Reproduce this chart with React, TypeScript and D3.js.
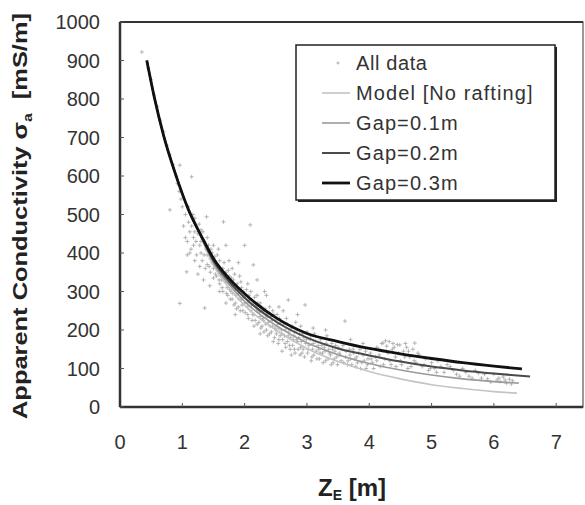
import React from "react";
import * as d3 from "d3";

// ---- data ----
const xTicks = [0, 1, 2, 3, 4, 5, 6, 7];
const yTicks = [0, 100, 200, 300, 400, 500, 600, 700, 800, 900, 1000];

const curveX = [0.43, 0.55, 0.7, 0.88, 1.1, 1.3, 1.5, 1.75, 2.0, 2.5, 3.0, 3.5, 4.0, 4.5, 5.0, 5.5, 6.0];
const modelY = [900, 805, 705, 610, 512, 440, 368, 310, 264, 200, 152, 118, 92, 73, 58, 48, 40];
const gap1Y = [900, 805, 705, 610, 512, 442, 374, 318, 274, 212, 167, 136, 113, 96, 83, 73, 66];
const gap2Y = [900, 805, 705, 610, 512, 444, 380, 326, 284, 222, 180, 152, 134, 118, 105, 95, 87];
const gap3Y = [900, 805, 705, 610, 512, 446, 386, 334, 294, 232, 191, 170, 152, 138, 126, 115, 106];
const endX = [6.37, 6.4, 6.58, 6.45];
const endY = [36, 62, 79, 99];

// measured points [Z_E, sigma_a]
const allData: [number, number][] = [
  [0.35, 922], [0.45, 880], [0.5, 850], [0.55, 810], [0.6, 780], [0.65, 745], [0.7, 715], [0.75, 680], [0.8, 655], [0.85, 630],
  [0.9, 600], [0.96, 628], [0.8, 512], [0.95, 560], [0.98, 540], [0.96, 269], [1.0, 520], [0.92, 580],
  [1.05, 500], [1.07, 351], [1.1, 480], [1.12, 455], [1.15, 598], [1.15, 470], [1.18, 440], [1.2, 490], [1.22, 430], [1.25, 450],
  [1.28, 420], [1.3, 400], [1.3, 460], [1.32, 380], [1.35, 430], [1.36, 257], [1.38, 410], [1.39, 494], [1.4, 395], [1.4, 370],
  [1.42, 420], [1.45, 385], [1.45, 350], [1.48, 400], [1.5, 360], [1.5, 335], [1.12, 400], [1.2, 380], [1.25, 345], [1.05, 440],
  [1.02, 470], [1.08, 430], [1.1, 520], [1.14, 410], [1.17, 500], [1.2, 455], [1.23, 395], [1.27, 475], [1.3, 430], [1.33, 455],
  [1.35, 395], [1.37, 360], [1.4, 440], [1.43, 365], [1.46, 410], [1.48, 375], [1.5, 420], [1.53, 345], [1.56, 395], [1.59, 330],
  [1.28, 365], [1.18, 420], [1.08, 395], [1.34, 330], [1.44, 315],
  [1.52, 390], [1.55, 370], [1.55, 340], [1.58, 355], [1.6, 380], [1.6, 320], [1.62, 345], [1.65, 360], [1.66, 481], [1.65, 300],
  [1.68, 335], [1.7, 420], [1.7, 350], [1.72, 310], [1.73, 290], [1.75, 340], [1.75, 325], [1.78, 300], [1.8, 360], [1.8, 315],
  [1.8, 280], [1.82, 330], [1.85, 305], [1.85, 270], [1.88, 320], [1.9, 295], [1.9, 260], [1.92, 340], [1.95, 310], [1.95, 280],
  [1.97, 250], [1.98, 300], [2.0, 420], [2.0, 270], [1.6, 300], [1.7, 270], [1.85, 240], [1.58, 410], [1.75, 380], [1.9, 375],
  [1.61, 360], [1.63, 330], [1.64, 310], [1.67, 375], [1.69, 325], [1.71, 295], [1.74, 355], [1.76, 305], [1.77, 280], [1.79, 335],
  [1.81, 295], [1.83, 265], [1.84, 345], [1.86, 290], [1.87, 255], [1.89, 305], [1.91, 280], [1.93, 250], [1.94, 325], [1.96, 265],
  [1.99, 285], [2.01, 245], [2.03, 305], [2.04, 270], [2.06, 230], [2.07, 290], [2.11, 265], [2.13, 240], [2.16, 285], [2.17, 225],
  [2.02, 290], [2.05, 260], [2.05, 240], [2.08, 280], [2.09, 473], [2.1, 300], [2.1, 250], [2.12, 225], [2.14, 369], [2.15, 270],
  [2.15, 240], [2.18, 260], [2.2, 215], [2.2, 290], [2.22, 250], [2.25, 235], [2.25, 270], [2.28, 210], [2.3, 250], [2.3, 225],
  [2.32, 300], [2.35, 240], [2.35, 200], [2.38, 220], [2.4, 260], [2.4, 190], [2.42, 235], [2.45, 210], [2.45, 250], [2.48, 180],
  [2.5, 225], [2.5, 200], [2.05, 320], [2.2, 330], [2.35, 290], [2.25, 190], [2.15, 210],
  [2.19, 250], [2.21, 270], [2.23, 220], [2.24, 245], [2.26, 205], [2.27, 260], [2.29, 230], [2.31, 195], [2.33, 255], [2.34, 215],
  [2.36, 235], [2.37, 185], [2.39, 245], [2.41, 210], [2.43, 195], [2.44, 225], [2.46, 170], [2.47, 240], [2.49, 205], [2.51, 190],
  [2.53, 215], [2.54, 165], [2.56, 230], [2.57, 185], [2.59, 200],
  [2.52, 240], [2.55, 205], [2.55, 175], [2.58, 220], [2.6, 190], [2.62, 250], [2.65, 200], [2.65, 165], [2.68, 215], [2.7, 278],
  [2.7, 185], [2.72, 160], [2.75, 205], [2.78, 175], [2.8, 195], [2.8, 150], [2.82, 220], [2.85, 170], [2.88, 190], [2.9, 155],
  [2.9, 210], [2.92, 140], [2.95, 180], [2.97, 265], [2.98, 165], [3.0, 195], [2.6, 145], [2.75, 135], [2.85, 240], [2.55, 260],
  [2.61, 175], [2.63, 215], [2.64, 185], [2.66, 155], [2.67, 230], [2.69, 170], [2.71, 195], [2.73, 150], [2.74, 180], [2.76, 210],
  [2.77, 160], [2.79, 185], [2.81, 140], [2.83, 175], [2.84, 200], [2.86, 150], [2.87, 180], [2.89, 135], [2.91, 170], [2.93, 190],
  [2.94, 150], [2.96, 130], [2.99, 175],
  [3.02, 150], [3.05, 175], [3.08, 130], [3.1, 165], [3.12, 190], [3.15, 145], [3.18, 160], [3.2, 125], [3.22, 175], [3.25, 140],
  [3.28, 155], [3.3, 120], [3.32, 185], [3.35, 150], [3.38, 135], [3.4, 165], [3.42, 115], [3.45, 145], [3.48, 130], [3.5, 155],
  [3.1, 205], [3.3, 200], [3.01, 140], [3.03, 160], [3.06, 185], [3.07, 120], [3.09, 150], [3.11, 135], [3.14, 170], [3.16, 125],
  [3.19, 150], [3.21, 140], [3.24, 160], [3.26, 115], [3.29, 145], [3.31, 165], [3.34, 125], [3.36, 140], [3.39, 110], [3.41, 150],
  [3.44, 125], [3.46, 160], [3.49, 110], [3.53, 135], [3.56, 150], [3.59, 115],
  [3.52, 140], [3.55, 120], [3.58, 160], [3.61, 223], [3.62, 130], [3.65, 110], [3.68, 150], [3.7, 125], [3.75, 140], [3.78, 105],
  [3.8, 130], [3.85, 150], [3.88, 115], [3.9, 135], [3.95, 100], [3.98, 125], [3.7, 175], [3.9, 165],
  [3.63, 145], [3.66, 120], [3.69, 135], [3.72, 110], [3.74, 150], [3.77, 125], [3.81, 115], [3.83, 140], [3.86, 100], [3.92, 120],
  [3.94, 145], [3.97, 110],
  [4.02, 140], [4.05, 115], [4.1, 130], [4.15, 150], [4.18, 105], [4.2, 165], [4.22, 166], [4.25, 125], [4.28, 158], [4.3, 140],
  [4.32, 170], [4.35, 110], [4.4, 155], [4.42, 130], [4.45, 162], [4.49, 161], [4.5, 120], [4.55, 145], [4.6, 155], [4.62, 100],
  [4.65, 130], [4.7, 150], [4.73, 166], [4.75, 115], [4.8, 135], [4.85, 105], [4.9, 125], [4.95, 95], [5.0, 115],
  [4.03, 125], [4.07, 100], [4.12, 120], [4.16, 135], [4.23, 110], [4.27, 145], [4.33, 120], [4.37, 150], [4.43, 105], [4.47, 140],
  [4.52, 110], [4.57, 130], [4.63, 145], [4.67, 105], [4.72, 120], [4.78, 140], [4.12, 155], [4.38, 165], [4.58, 165], [4.26, 172],
  [5.05, 100], [5.1, 120], [5.2, 90], [5.3, 105], [5.4, 85], [5.5, 100], [5.6, 80], [5.7, 95], [5.8, 75], [5.9, 73],
  [6.0, 85], [6.05, 70], [6.1, 66], [6.15, 78], [6.2, 62], [6.25, 72], [6.3, 68], [5.25, 110], [5.75, 88],
  [4.88, 110], [4.98, 100], [5.08, 90], [5.15, 105], [5.35, 95], [5.45, 80], [5.55, 90], [5.65, 75], [5.85, 85], [5.95, 65],
  [6.08, 75], [6.18, 70], [6.28, 60],
];

const seriesNames = ["Model [No rafting]", "Gap=0.1m", "Gap=0.2m", "Gap=0.3m"];
const seriesY = [modelY, gap1Y, gap2Y, gap3Y];
const seriesColor = ["#c4c4c4", "#9a9a9a", "#4a4a4a", "#111111"];
const seriesWidth = [1.6, 1.6, 2, 2.8];

const W = 585, H = 505;
const M = { left: 120, right: 583, top: 22, bottom: 407 };

export default function App() {
  const x = d3.scaleLinear().domain([0, 7.43]).range([M.left, M.right]);
  const y = d3.scaleLinear().domain([0, 1000]).range([M.bottom, M.top]);
  const line = d3
    .line<[number, number]>()
    .x((d) => x(d[0]))
    .y((d) => y(d[1]))
    .curve(d3.curveMonotoneX);

  const font = "Liberation Sans, Arial, sans-serif";

  return (
    <svg
      width={W}
      height={H}
      style={{ position: "absolute", left: 0, top: 0, background: "#fff" }}
      fontFamily={font}
    >
      <rect x={0} y={0} width={W} height={H} fill="#fff" />
      {/* frame */}
      <rect
        x={M.left}
        y={M.top}
        width={M.right - M.left}
        height={M.bottom - M.top}
        fill="none"
        stroke="#555"
        strokeWidth={1.2}
      />
      <line x1={M.left} y1={M.top} x2={M.right} y2={M.top} stroke="#333" strokeWidth={2} />
      <line x1={M.left} y1={M.top} x2={M.left} y2={M.bottom} stroke="#333" strokeWidth={2.5} />
      <line x1={M.left} y1={M.bottom} x2={M.right} y2={M.bottom} stroke="#333" strokeWidth={2.5} />

      {/* ticks */}
      {yTicks.map((t) => (
        <g key={"y" + t}>
          <line x1={M.left} x2={M.left + 4} y1={y(t)} y2={y(t)} stroke="#555" strokeWidth={1} />
          <text x={100} y={y(t)} dy="0.36em" textAnchor="end" fontSize={20} fill="#333">
            {t}
          </text>
        </g>
      ))}
      {xTicks.map((t) => (
        <g key={"x" + t}>
          {t > 0 && (
            <line x1={x(t)} x2={x(t)} y1={M.bottom} y2={M.bottom - 4} stroke="#555" strokeWidth={1} />
          )}
          <text x={x(t)} y={449} textAnchor="middle" fontSize={20} fill="#333">
            {t}
          </text>
        </g>
      ))}

      {/* scatter */}
      <g stroke="#a0a0a0" strokeWidth={0.9} opacity={0.85}>
        {allData.map((p, i) => (
          <path
            key={i}
            d={`M${x(p[0]) - 2},${y(p[1])}h4M${x(p[0])},${y(p[1]) - 2}v4`}
          />
        ))}
      </g>

      {/* model curves */}
      {seriesY.map((ys, si) => {
        const d = curveX.map((cx, i) => [cx, ys[i]] as [number, number]);
        d.push([endX[si], endY[si]]);
        return (
          <path
            key={si}
            d={line(d) || ""}
            fill="none"
            stroke={seriesColor[si]}
            strokeWidth={seriesWidth[si]}
          />
        );
      })}

      {/* legend */}
      <rect x={298} y={47} width={259} height={155} fill="#222" />
      <rect x={296} y={45} width={259} height={155} fill="#fff" stroke="#222" strokeWidth={1.5} />
      <path d="M336.5,63h3M338,61.5v3" stroke="#aaa" strokeWidth={1} />
      <text x={356} y={63} dy="0.36em" fontSize={20} letterSpacing={0.6} fill="#333">
        All data
      </text>
      {seriesNames.map((n, i) => (
        <g key={n}>
          <line
            x1={322}
            x2={350}
            y1={93 + i * 30}
            y2={93 + i * 30}
            stroke={seriesColor[i]}
            strokeWidth={seriesWidth[i]}
          />
          <text x={356} y={93 + i * 30} dy="0.36em" fontSize={20} letterSpacing={1.1} fill="#333">
            {n}
          </text>
        </g>
      ))}

      {/* axis titles */}
      <text
        transform={`translate(27,216) rotate(-90)`}
        textAnchor="middle"
        fontSize={21}
        fontWeight="bold"
        fill="#222"
        textLength={406}
        lengthAdjust="spacingAndGlyphs"
      >
        Apparent Conductivity σ
        <tspan fontSize={13} dy={5}>a</tspan>
        <tspan dy={-5}>{"\u00a0\u00a0[mS/m]"}</tspan>
      </text>
      <text x={352} y={496} textAnchor="middle" fontSize={24} fontWeight="bold" fill="#222">
        Z<tspan fontSize={14} dy={4}>E</tspan>
        <tspan dy={-4}> [m]</tspan>
      </text>
    </svg>
  );
}
